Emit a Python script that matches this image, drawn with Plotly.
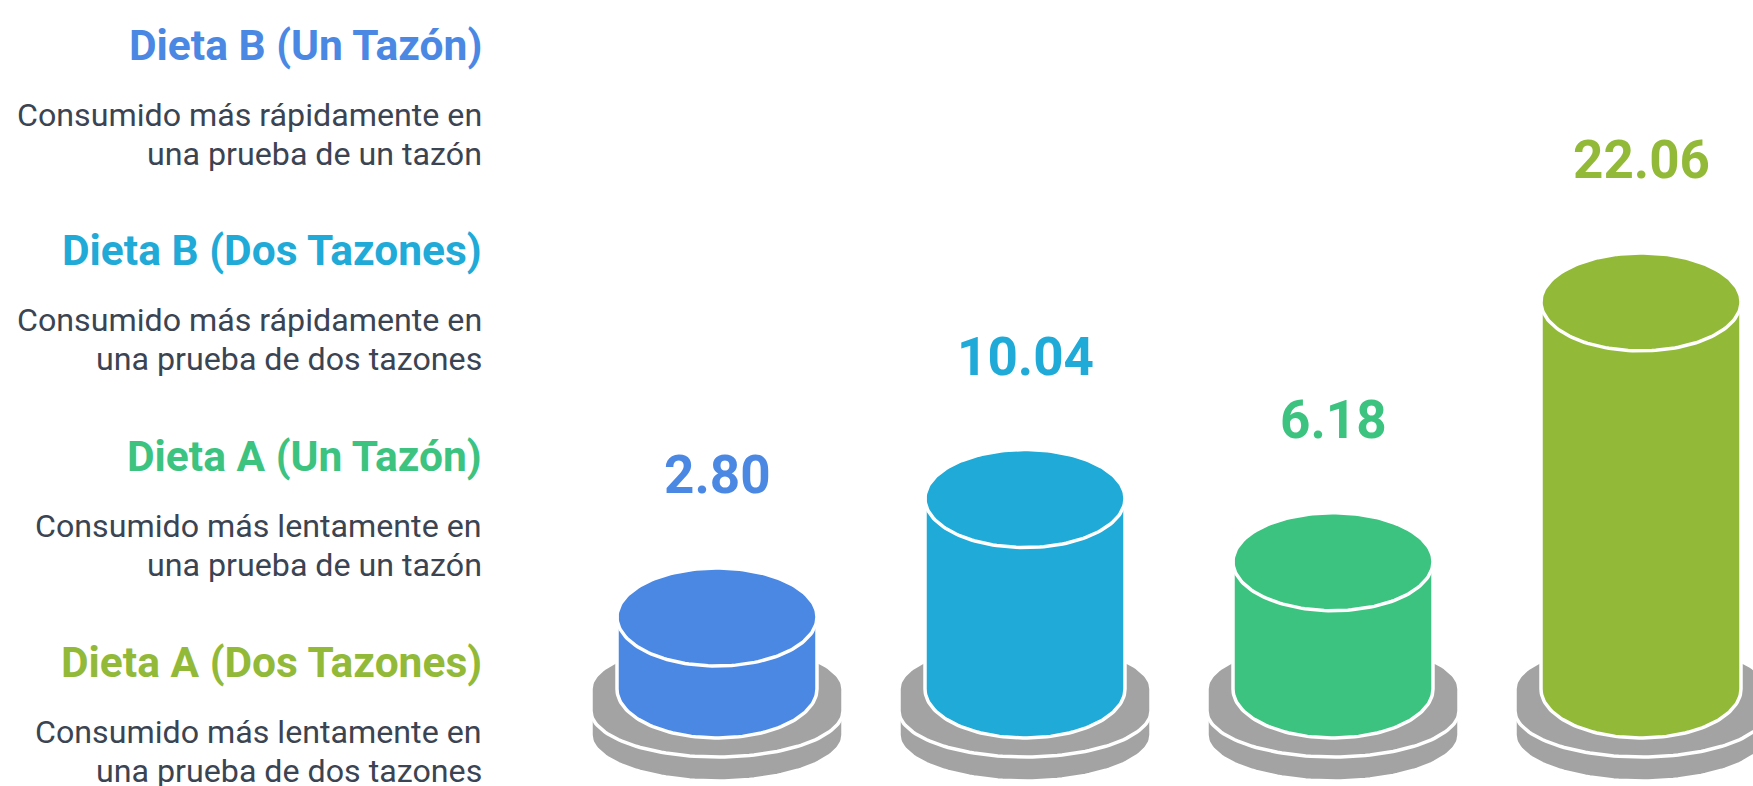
import numpy as np
import plotly.graph_objects as go

# ---------------- data ----------------
categories = ["Dieta B (Un Tazón)", "Dieta B (Dos Tazones)",
              "Dieta A (Un Tazón)", "Dieta A (Dos Tazones)"]
desc_line1 = ["Consumido más rápidamente en", "Consumido más rápidamente en",
              "Consumido más lentamente en", "Consumido más lentamente en"]
desc_line2 = ["una prueba de un tazón", "una prueba de dos tazones",
              "una prueba de un tazón", "una prueba de dos tazones"]
values = [2.80, 10.04, 6.18, 22.06]
colors = ["#4A88E4", "#1FAAD7", "#3CC37F", "#92BA38"]

# ---------------- layout constants (pixels) ----------------
W, H = 1753, 786
PX_PER_CAT = 308.0      # horizontal distance between cylinders
X0_PX = 717.0           # pixel column of first cylinder centre
PX_PER_UNIT = 16.36     # vertical pixels per value unit
ZERO_PX = 662.8         # pixel row of value 0
BODY_BASE_PX = 26.2     # body bottom-ellipse centre below value 0
RX, RY = 100.0, 49.0    # cylinder ellipse radii
DRX, DRY = 126.0, 46.0  # base disc ellipse radii
DISC_T1, DISC_T2 = 22.0, 24.0
GRAY = "#A3A3A3"
TEXT = "#3B4452"
FONT = "Roboto"
LW = 3.5

x_range = [-X0_PX / PX_PER_CAT, (W - X0_PX) / PX_PER_CAT]
y_range = [(ZERO_PX - H) / PX_PER_UNIT, ZERO_PX / PX_PER_UNIT]


def ux(px):
    return px / PX_PER_CAT


def uy(px):
    return px / PX_PER_UNIT


def cyl(xc, y_top, y_bot, rx, ry, n=80):
    t1 = np.linspace(np.pi, 0, n)
    t2 = np.linspace(0, -np.pi, n)
    xs = np.concatenate([xc + rx * np.cos(t1), xc + rx * np.cos(t2)])
    ys = np.concatenate([y_top + ry * np.sin(t1), y_bot + ry * np.sin(t2)])
    return np.append(xs, xs[0]), np.append(ys, ys[0])


def ellipse(xc, yc, rx, ry, n=160):
    t = np.linspace(0, 2 * np.pi, n)
    return xc + rx * np.cos(t), yc + ry * np.sin(t)


fig = go.Figure()
body_base = -uy(BODY_BASE_PX)

for i, (v, c) in enumerate(zip(values, colors)):
    # lower gray disc
    t2 = body_base - uy(DISC_T1)
    xs, ys = cyl(i, t2, t2 - uy(DISC_T2), ux(DRX), uy(DRY))
    fig.add_trace(go.Scatter(x=xs, y=ys, fill="toself", fillcolor=GRAY, mode="lines",
                             line=dict(color="white", width=LW), hoverinfo="skip", showlegend=False))
    # upper gray disc
    xs, ys = cyl(i, body_base, t2, ux(DRX), uy(DRY))
    fig.add_trace(go.Scatter(x=xs, y=ys, fill="toself", fillcolor=GRAY, mode="lines",
                             line=dict(color="white", width=LW), hoverinfo="skip", showlegend=False))
    # body
    xs, ys = cyl(i, v, body_base, ux(RX), uy(RY))
    fig.add_trace(go.Scatter(x=xs, y=ys, fill="toself", fillcolor=c, mode="lines",
                             line=dict(color="white", width=LW), hoverinfo="skip", showlegend=False))
    # top face
    xs, ys = ellipse(i, v, ux(RX), uy(RY))
    fig.add_trace(go.Scatter(x=xs, y=ys, fill="toself", fillcolor=c, mode="lines",
                             line=dict(color="white", width=LW), hoverinfo="skip", showlegend=False))
    # value label
    fig.add_annotation(x=i, y=v, xref="x", yref="y", yshift=142, text=f"{v:.2f}",
                       showarrow=False, xanchor="center", yanchor="middle",
                       font=dict(family=FONT, size=53, color=c, weight=700))

# left-hand legend text
TEXT_RIGHT = 484.0
for i, name in enumerate(categories):
    ty = 45.0 + 205.7 * i
    fig.add_annotation(x=TEXT_RIGHT / W, y=1 - ty / H, xref="paper", yref="paper",
                       text=name, showarrow=False, xanchor="right", yanchor="middle",
                       font=dict(family=FONT, size=42.5, color=colors[i], weight=700))
    for off, line in ((69.5, desc_line1[i]), (108.5, desc_line2[i])):
        fig.add_annotation(x=TEXT_RIGHT / W, y=1 - (ty + off) / H, xref="paper", yref="paper",
                           text=line, showarrow=False, xanchor="right", yanchor="middle",
                           font=dict(family=FONT, size=32.2, color=TEXT))

fig.update_layout(
    width=W, height=H, margin=dict(l=0, r=0, t=0, b=0),
    paper_bgcolor="white", plot_bgcolor="white", showlegend=False,
    xaxis=dict(range=x_range, visible=False, fixedrange=True),
    yaxis=dict(range=y_range, visible=False, fixedrange=True),
)

fig.write_html("out.html", config={"displayModeBar": False},
               post_script="document.body.style.margin='0';document.body.style.overflow='hidden';")
